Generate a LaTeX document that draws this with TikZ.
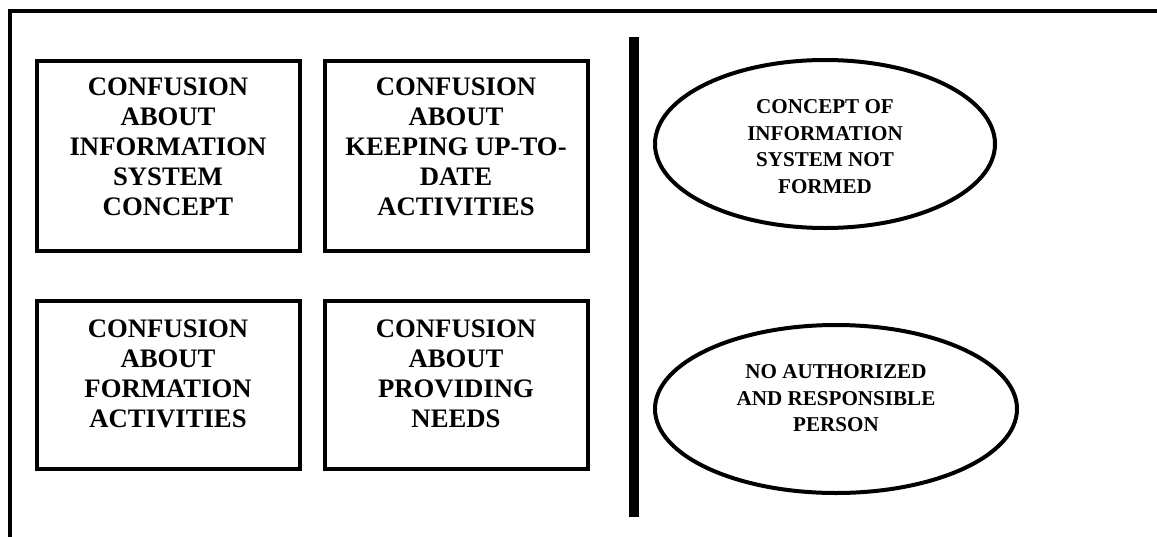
\documentclass[tikz,border=0pt]{standalone}
\usepackage{fontspec}
\setmainfont{Liberation Serif}
\usetikzlibrary{shapes.geometric}
\tikzstyle{frame}=[line width=3.5pt]
\tikzstyle{divider}=[line width=10pt]
\tikzstyle{confusion}=[draw, line width=4pt, inner sep=0pt, outer sep=0pt,
  minimum width=263pt, font=\bfseries\fontsize{26.7}{30}\selectfont]
\tikzstyle{outcome}=[draw, ellipse, line width=4pt, inner sep=0pt, outer sep=0pt,
  minimum height=168pt, font=\bfseries\fontsize{21.1}{26.5}\selectfont]
\newcommand{\toptext}[3]{\parbox[c][#1][t]{#2}{\centering #3}}

\begin{document}
\begin{tikzpicture}[x=1pt, y=-1pt]
          \useasboundingbox (0, 0) rectangle (1157, 536);

          % outer frame, only left and top edges show
          \coordinate (framebot) at (10, 545);
          \coordinate (framecorner) at (10, 11);
          \coordinate (frameright) at (1165, 11);
          \draw[frame] (framebot) -- (framecorner) -- (frameright);

          % causes
          \node[confusion, minimum height=190pt] (concept) at (168, 156)
            {\toptext{156pt}{250pt}{CONFUSION\\ ABOUT\\ INFORMATION\\ SYSTEM\\ CONCEPT}};
          \node[confusion, minimum height=190pt] (uptodate) at (456, 156)
            {\toptext{156pt}{250pt}{CONFUSION\\ ABOUT\\ KEEPING UP-TO-\\ DATE\\ ACTIVITIES}};
          \node[confusion, minimum height=168pt] (formation) at (168, 385)
            {\toptext{130pt}{250pt}{CONFUSION\\ ABOUT\\ FORMATION\\ ACTIVITIES}};
          \node[confusion, minimum height=168pt] (needs) at (456, 385)
            {\toptext{130pt}{250pt}{CONFUSION\\ ABOUT\\ PROVIDING\\ NEEDS}};

          % divider
          \coordinate (bartop) at (634, 37);
          \coordinate (barbot) at (634, 517);
          \draw[divider] (bartop) -- (barbot);

          % results
          \node[outcome, minimum width=340pt] (notformed) at (825, 144)
            {\toptext{88pt}{230pt}{CONCEPT OF\\ INFORMATION\\ SYSTEM NOT\\ FORMED}};
          \node[outcome, minimum width=362pt] (noperson) at (836, 409)
            {\toptext{88pt}{240pt}{NO AUTHORIZED\\ AND RESPONSIBLE\\ PERSON}};
        \end{tikzpicture}
\end{document}
